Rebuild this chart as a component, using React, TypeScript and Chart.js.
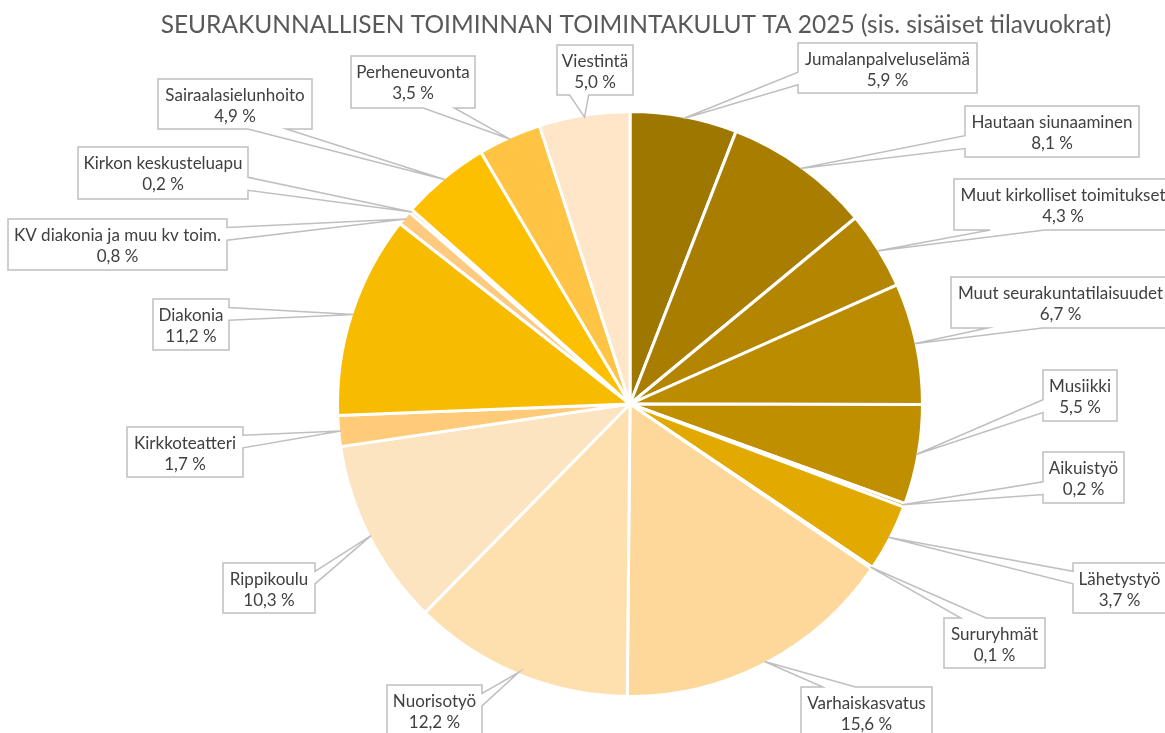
import React, { useEffect, useRef } from "react";
import { Chart, registerables } from "chart.js";

Chart.register(...registerables);

const TITLE = "SEURAKUNNALLISEN TOIMINNAN TOIMINTAKULUT TA 2025 (sis. sisäiset tilavuokrat)";

const categories = [
  "Jumalanpalveluselämä",
  "Hautaan siunaaminen",
  "Muut kirkolliset toimitukset",
  "Muut seurakuntatilaisuudet",
  "Musiikki",
  "Aikuistyö",
  "Lähetystyö",
  "Sururyhmät",
  "Varhaiskasvatus",
  "Nuorisotyö",
  "Rippikoulu",
  "Kirkkoteatteri",
  "Diakonia",
  "KV diakonia ja muu kv toim.",
  "Kirkon keskusteluapu",
  "Sairaalasielunhoito",
  "Perheneuvonta",
  "Viestintä",
];

const values = [5.9, 8.1, 4.3, 6.7, 5.5, 0.2, 3.7, 0.1, 15.6, 12.2, 10.3, 1.7, 11.2, 0.8, 0.2, 4.9, 3.5, 5.0];

const sliceColors = [
  "#9e7700",
  "#a97e00",
  "#b38500",
  "#bb8b00",
  "#c08f00",
  "#cf9b00",
  "#e2a900",
  "#efb300",
  "#fed89a",
  "#fedfae",
  "#fde4c0",
  "#ffcb78",
  "#f7bb00",
  "#fdca80",
  "#ffd58a",
  "#fdc000",
  "#ffc443",
  "#ffe6c8",
];

// layout of the callout boxes: [left, top, width, height] in px
const labelBoxes: number[][] = [
  [798, 43, 179, 50],
  [965, 106, 174, 51],
  [954, 179, 218, 51],
  [951, 277, 219, 51],
  [1043, 370, 74, 51],
  [1043, 452, 81, 51],
  [1073, 563, 93, 50],
  [944, 618, 101, 50],
  [801, 687, 131, 50],
  [387, 685, 95, 50],
  [223, 563, 92, 50],
  [127, 427, 116, 50],
  [153, 299, 76, 51],
  [8, 219, 219, 51],
  [78, 147, 170, 52],
  [158, 79, 154, 50],
  [351, 56, 124, 52],
  [557, 45, 76, 50],
];

const fmtPct = (v: number) => v.toFixed(1).replace(".", ",") + " %";

const calloutPlugin = {
  id: "callouts",
  afterDatasetsDraw(chart: any) {
    const ctx = chart.ctx as CanvasRenderingContext2D;
    const meta = chart.getDatasetMeta(0);
    ctx.save();
    meta.data.forEach((arc: any, i: number) => {
      const p = arc.getProps(["x", "y", "startAngle", "endAngle", "outerRadius"], true);
      const mid = (p.startAngle + p.endAngle) / 2;
      const tx = p.x + Math.cos(mid) * (p.outerRadius - 2);
      const ty = p.y + Math.sin(mid) * (p.outerRadius - 2);
      const [bx, by, bw, bh] = labelBoxes[i];
      const dxPos = tx - (bx + bw / 2);
      const dyPos = ty - (by + bh / 2);
      const horizontal = Math.abs(dxPos) * bh > Math.abs(dyPos) * bw;
      const L = bx, T = by, R = bx + bw, B = by + bh;
      ctx.beginPath();
      if (horizontal) {
        const f1 = dyPos > 0 ? 7 / 12 : 2 / 12;
        const f2 = dyPos > 0 ? 10 / 12 : 5 / 12;
        const y1 = T + bh * f1, y2 = T + bh * f2;
        if (dxPos < 0) {
          ctx.moveTo(L, T); ctx.lineTo(R, T); ctx.lineTo(R, B); ctx.lineTo(L, B);
          ctx.lineTo(L, y2); ctx.lineTo(tx, ty); ctx.lineTo(L, y1);
        } else {
          ctx.moveTo(L, T); ctx.lineTo(R, T); ctx.lineTo(R, y1); ctx.lineTo(tx, ty);
          ctx.lineTo(R, y2); ctx.lineTo(R, B); ctx.lineTo(L, B);
        }
      } else {
        const f1 = dxPos > 0 ? 7 / 12 : 2 / 12;
        const f2 = dxPos > 0 ? 10 / 12 : 5 / 12;
        const x1 = L + bw * f1, x2 = L + bw * f2;
        if (dyPos < 0) {
          ctx.moveTo(L, T); ctx.lineTo(x1, T); ctx.lineTo(tx, ty); ctx.lineTo(x2, T);
          ctx.lineTo(R, T); ctx.lineTo(R, B); ctx.lineTo(L, B);
        } else {
          ctx.moveTo(L, T); ctx.lineTo(R, T); ctx.lineTo(R, B); ctx.lineTo(x2, B);
          ctx.lineTo(tx, ty); ctx.lineTo(x1, B); ctx.lineTo(L, B);
        }
      }
      ctx.closePath();
      ctx.fillStyle = "#ffffff";
      ctx.fill();
      ctx.lineWidth = 1.5;
      ctx.strokeStyle = "#bfbfbf";
      ctx.lineJoin = "miter";
      ctx.stroke();

      ctx.fillStyle = "#404040";
      ctx.font = "17px Lato";
      ctx.textAlign = "center";
      ctx.textBaseline = "middle";
      const cx = bx + bw / 2;
      ctx.fillText(chart.data.labels[i], cx, by + 16.5);
      ctx.fillText(fmtPct(chart.data.datasets[0].data[i]), cx, by + 38);
    });

    ctx.fillStyle = "#595959";
    ctx.font = "24.5px Lato";
    ctx.textAlign = "center";
    ctx.textBaseline = "middle";
    ctx.fillText(TITLE, 636, 25);
    ctx.restore();
  },
};

export default function App() {
  const canvasRef = useRef<HTMLCanvasElement | null>(null);

  useEffect(() => {
    if (!canvasRef.current) return;
    const chart = new Chart(canvasRef.current, {
      type: "pie",
      data: {
        labels: categories,
        datasets: [
          {
            data: values,
            backgroundColor: sliceColors,
            borderColor: "#ffffff",
            borderWidth: 3,
          },
        ],
      },
      options: {
        responsive: false,
        animation: false,
        layout: { padding: { left: 336, right: 241, top: 110, bottom: 35 } },
        plugins: {
          legend: { display: false },
          tooltip: { enabled: false },
          title: { display: false },
        },
      },
      plugins: [calloutPlugin],
    });
    return () => chart.destroy();
  }, []);

  return (
    <div style={{ position: "fixed", left: 0, top: 0, width: 1165, height: 733, background: "#ffffff" }}>
      <canvas ref={canvasRef} width={1165} height={733} style={{ display: "block" }} />
    </div>
  );
}
